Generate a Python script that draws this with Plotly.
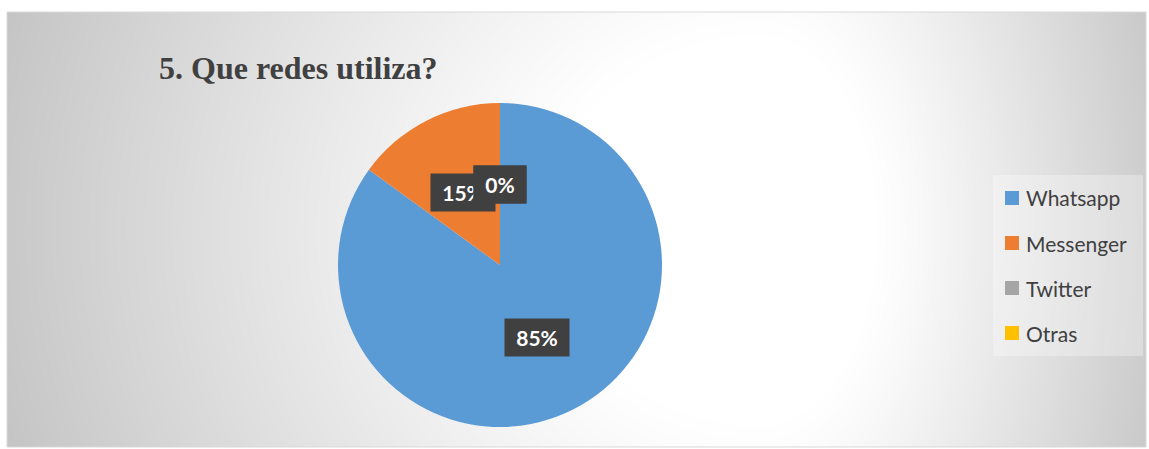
import base64, struct, zlib, math
import numpy as np
import plotly.graph_objects as go

# ---- data ----
labels = ["Whatsapp", "Messenger", "Twitter", "Otras"]
values = [85, 15, 0, 0]
colors = ["#5B9BD5", "#ED7D31", "#A5A5A5", "#FFC000"]
title_text = "5. Que redes utiliza?"

W, H = 1149, 449
# chart area box (px)
bx0, by0, bx1, by1 = 7, 12, 1146, 447

# ---- background radial gradient as PNG ----
def make_png(arr):
    h, w = arr.shape
    raw = b"".join(b"\x00" + arr[i].tobytes() for i in range(h))
    def chunk(t, d):
        c = struct.pack(">I", len(d)) + t + d
        return c + struct.pack(">I", zlib.crc32(t + d) & 0xffffffff)
    png = b"\x89PNG\r\n\x1a\n"
    png += chunk(b"IHDR", struct.pack(">IIBBBBB", w, h, 8, 0, 0, 0, 0))
    png += chunk(b"IDAT", zlib.compress(raw, 9))
    png += chunk(b"IEND", b"")
    return "data:image/png;base64," + base64.b64encode(png).decode()

gw, gh = bx1 - bx0, by1 - by0
yy, xx = np.mgrid[0:gh, 0:gw]
gx = xx + bx0
gy = yy + by0
cxg, cyg = 760.0, 230.0
ax = np.where(gx < cxg, 770.0, 420.0)
t = np.sqrt(((gx - cxg) / ax) ** 2 + ((gy - cyg) / 700.0) ** 2)
v = np.clip((t - 0.28) / 0.78, 0, 1) ** 1.1
g = (255 - v * (255 - 194)).astype(np.uint8)
bg_src = make_png(g)

# ---- pie geometry ----
pcx, pcy, pr = 500, 265, 162

fig = go.Figure()
fig.add_trace(go.Pie(
    labels=labels, values=values, sort=False, direction="clockwise", rotation=0,
    marker=dict(colors=colors, line=dict(width=0)),
    textinfo="none", hoverinfo="skip", showlegend=False,
    domain=dict(x=[(pcx - pr) / W, (pcx + pr) / W], y=[1 - (pcy + pr) / H, 1 - (pcy - pr) / H]),
))

annotations = []
# data labels at half radius on each slice's mid angle
total = sum(values)
cum = 0
for lab, val in zip(labels, values):
    mid = (cum + val / 2) / total * 2 * math.pi
    cum += val
    px = pcx + 0.5 * pr * math.sin(mid)
    py = pcy - 0.5 * pr * math.cos(mid)
    txt = f"{round(val / total * 100)}%"
    annotations.append(dict(
        x=px / W, y=1 - py / H, xref="paper", yref="paper", text=f"<b>{txt}</b>",
        showarrow=False, font=dict(family="Lato", size=21, color="white"),
        bgcolor="#404040", borderpad=5, width=18 + 12 * len(txt), height=27,
        xanchor="center", yanchor="middle",
    ))

# title
annotations.append(dict(
    x=157 / W, y=1 - 68 / H, xref="paper", yref="paper", text=f"<b>{title_text}</b>",
    showarrow=False, xanchor="left", yanchor="middle",
    font=dict(family="Liberation Serif", size=32, color="#404040"),
))

shapes = [
    dict(type="rect", xref="paper", yref="paper", x0=bx0 / W, x1=bx1 / W,
         y0=1 - by1 / H, y1=1 - by0 / H, line=dict(color="#d9d9d9", width=1),
         fillcolor="rgba(0,0,0,0)", layer="above"),
    dict(type="rect", xref="paper", yref="paper", x0=993 / W, x1=1143 / W,
         y0=1 - 356 / H, y1=1 - 175 / H, line=dict(width=0),
         fillcolor="rgba(255,255,255,0.3)", layer="below"),
]
# manual legend
for i, (lab, col) in enumerate(zip(labels, colors)):
    yc = 198 + 45 * i
    shapes.append(dict(type="rect", xref="paper", yref="paper",
                       x0=1005 / W, x1=1019 / W, y0=1 - (yc + 7) / H, y1=1 - (yc - 7) / H,
                       fillcolor=col, line=dict(width=0)))
    annotations.append(dict(
        x=1024 / W, y=1 - yc / H, xref="paper", yref="paper", text=lab,
        showarrow=False, xanchor="left", yanchor="middle",
        font=dict(family="Lato", size=21, color="#404040"),
    ))

fig.update_layout(
    width=W, height=H, margin=dict(l=0, r=0, t=0, b=0),
    paper_bgcolor="white", plot_bgcolor="white",
    images=[dict(source=bg_src, xref="paper", yref="paper", x=bx0 / W, y=1 - by0 / H,
                 sizex=gw / W, sizey=gh / H, sizing="stretch", xanchor="left",
                 yanchor="top", layer="below")],
    shapes=shapes, annotations=annotations,
)
fig.write_html("out.html")
